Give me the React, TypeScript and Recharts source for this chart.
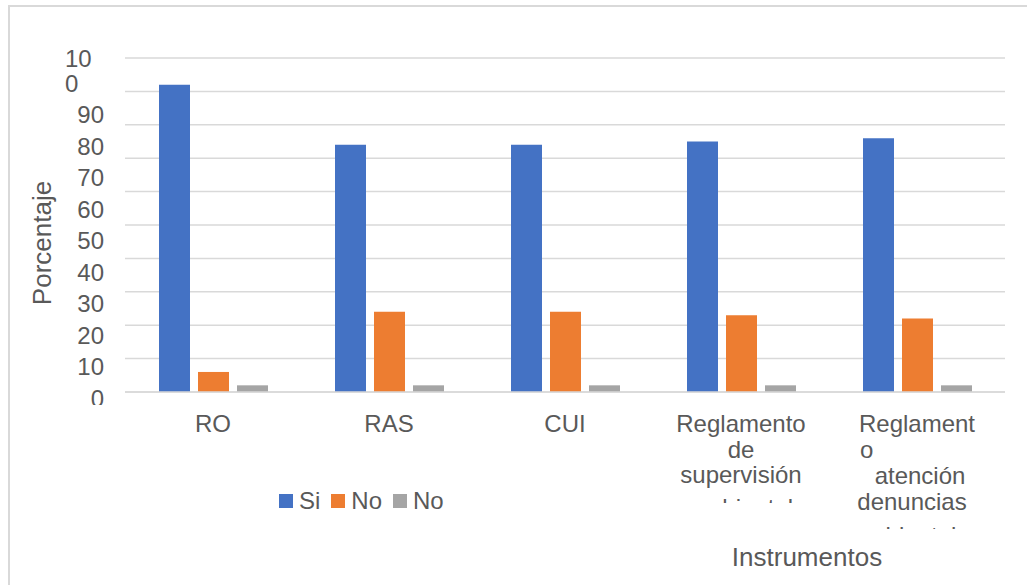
import React from 'react';
import { BarChart, Bar, XAxis, YAxis, CartesianGrid, Legend } from 'recharts';

const categories = [
  'RO',
  'RAS',
  'CUI',
  'Reglamento de supervisión ambiental',
  'Reglamento atención denuncias ambientales',
];
const siValues = [92, 74, 74, 75, 76];
const noValues = [6, 24, 24, 23, 22];
const no2Values = [2, 2, 2, 2, 2];
const yTicks = [0, 10, 20, 30, 40, 50, 60, 70, 80, 90, 100];
const categoryLabelLines = [
  ['RO'],
  ['RAS'],
  ['CUI'],
  ['Reglamento', 'de', 'supervisión', 'ambiental'],
  ['Reglament', 'o', 'atención', 'denuncias', 'ambientales'],
];
const seriesNames = ['Si', 'No', 'No'];
const seriesColors = ['#4472C4', '#ED7D31', '#A5A5A5'];

const data = categories.map((c, i) => ({
  category: c,
  si: siValues[i],
  no: noValues[i],
  no2: no2Values[i],
}));

const FONT = '"Liberation Sans", Arial, Helvetica, sans-serif';
const TEXT = '#595959';
const GRID = '#d9d9d9';

// layout of wrapped category labels (style only)
const labelLayout: Record<number, { dy: number[]; dx?: number[]; anchor?: string[]; clip?: number }> = {
  0: { dy: [40] },
  1: { dy: [40] },
  2: { dy: [40] },
  3: { dy: [40, 66, 91, 124], clip: 111 },
  4: { dy: [40, 66, 92, 118, 152], dx: [0, -57, 3, -5, 0], anchor: ['middle', 'start', 'middle', 'middle', 'middle'], clip: 137 },
};

const XTick = (props: any) => {
  const { x, y, payload } = props;
  const idx = payload.index ?? categories.indexOf(payload.value);
  const lines = categoryLabelLines[idx] || [String(payload.value)];
  const lay = labelLayout[idx] || { dy: [40] };
  const clipId = `xclip-${idx}`;
  return (
    <g>
      {lay.clip !== undefined && (
        <defs>
          <clipPath id={clipId}>
            <rect x={x - 100} y={y} width={200} height={lay.clip} />
          </clipPath>
        </defs>
      )}
      <g clipPath={lay.clip !== undefined ? `url(#${clipId})` : undefined}>
        {lines.map((ln, i) => (
          <text
            key={i}
            x={x + (lay.dx ? lay.dx[i] : 0)}
            y={y + lay.dy[i]}
            textAnchor={(lay.anchor ? lay.anchor[i] : 'middle') as any}
            fontFamily={FONT}
            fontSize={24}
            fill={TEXT}
          >
            {ln}
          </text>
        ))}
      </g>
    </g>
  );
};

const YTick = (props: any) => {
  const { x, y, payload } = props;
  const v = Number(payload.value);
  const base = y + 15 + v * 0.187;
  const common = { fontFamily: FONT, fontSize: 24, fill: TEXT };
  if (v === 100) {
    return (
      <g>
        <text x={x - 60} y={base - 24.5} textAnchor="start" {...common}>10</text>
        <text x={x - 60} y={base} textAnchor="start" {...common}>0</text>
      </g>
    );
  }
  return (
    <g>
      <defs>
        <clipPath id={`yclip-${v}`}>
          <rect x={x - 80} y={0} width={80} height={405} />
        </clipPath>
      </defs>
      <text x={x - 21} y={base} textAnchor="end" clipPath={`url(#yclip-${v})`} {...common}>
        {String(v)}
      </text>
    </g>
  );
};

const LegendContent = () => {
  const items = seriesNames.map((n, i) => ({ name: n, color: seriesColors[i] }));
  return (
    <div style={{ display: 'flex', alignItems: 'center', fontFamily: FONT, fontSize: 24, color: TEXT, lineHeight: '24px', whiteSpace: 'nowrap' }}>
      {items.map((it, i) => (
        <div key={i} style={{ display: 'flex', alignItems: 'center', marginRight: 11 }}>
          <span style={{ display: 'inline-block', width: 14, height: 14, background: it.color, marginRight: 6 }} />
          <span>{it.name}</span>
        </div>
      ))}
    </div>
  );
};

export default function App() {
  return (
    <div style={{ position: 'fixed', left: 0, top: 0, width: 1027, height: 585, overflow: 'hidden', background: '#fff' }}>
      <div style={{ position: 'absolute', left: 8, top: 5, width: 1100, height: 700, border: `2px solid ${GRID}`, boxSizing: 'border-box' }} />
      <div style={{ position: 'absolute', left: 0, top: 0 }}>
        <BarChart
          width={1027}
          height={585}
          data={data}
          margin={{ top: 58, right: 22, bottom: 153, left: 65 }}
          barSize={31}
          barGap={8}
        >
          <CartesianGrid vertical={false} stroke={GRID} strokeWidth={1.5} />
          <XAxis
            dataKey="category"
            interval={0}
            tickLine={false}
            tickSize={0}
            tickMargin={0}
            height={40}
            axisLine={{ stroke: GRID, strokeWidth: 1.5 }}
            tick={<XTick />}
            label={{
              content: () => (
                <text x={807} y={566} textAnchor="middle" fontFamily={FONT} fontSize={26} fill={TEXT}>
                  Instrumentos
                </text>
              ),
            }}
          />
          <YAxis
            domain={[0, 100]}
            ticks={yTicks}
            interval={0}
            width={60}
            tickLine={false}
            axisLine={false}
            tickSize={0}
            tickMargin={0}
            tick={<YTick />}
            label={{
              content: () => (
                <text
                  x={42}
                  y={243}
                  transform="rotate(-90, 42, 243)"
                  textAnchor="middle"
                  dominantBaseline="central"
                  fontFamily={FONT}
                  fontSize={26}
                  fill={TEXT}
                >
                  Porcentaje
                </text>
              ),
            }}
          />
          <Legend
            layout="horizontal"
            verticalAlign="middle"
            align="center"
            content={<LegendContent />}
            wrapperStyle={{ left: 279, top: 489, width: 'auto', height: 'auto' }}
          />
          <Bar dataKey="si" name={seriesNames[0]} fill={seriesColors[0]} isAnimationActive={false} />
          <Bar dataKey="no" name={seriesNames[1]} fill={seriesColors[1]} isAnimationActive={false} />
          <Bar dataKey="no2" name={seriesNames[2]} fill={seriesColors[2]} isAnimationActive={false} />
        </BarChart>
      </div>
    </div>
  );
}
